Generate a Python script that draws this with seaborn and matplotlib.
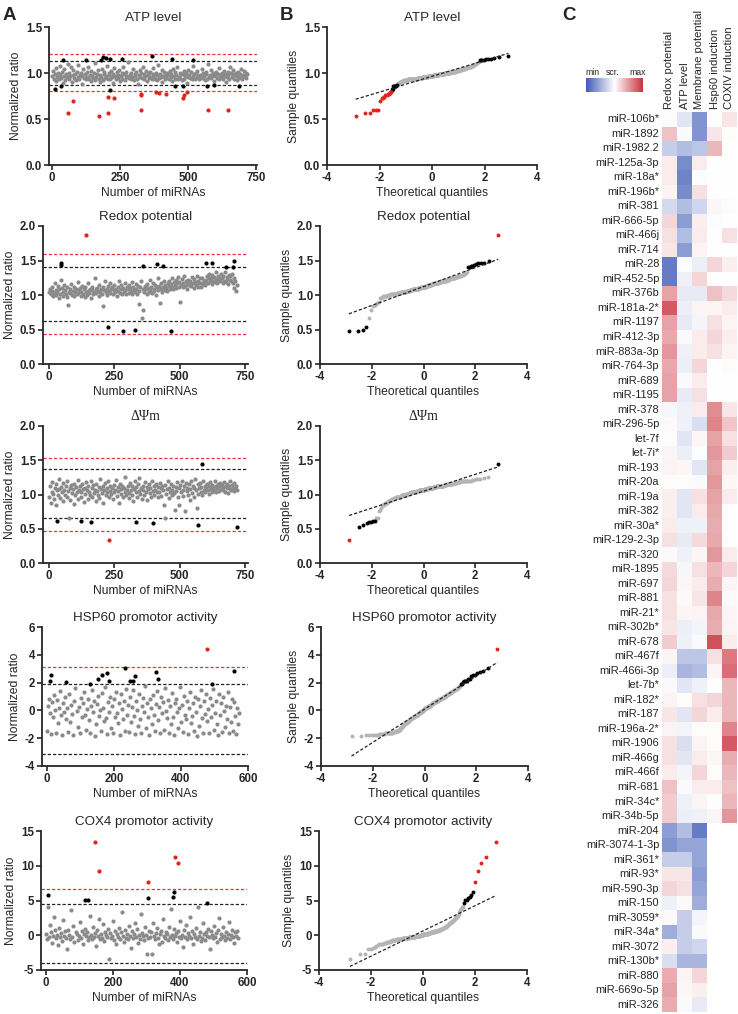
import numpy as np
import pandas as pd
import matplotlib
matplotlib.use("Agg")
import matplotlib.pyplot as plt
import seaborn as sns
from matplotlib.colors import LinearSegmentedColormap, Normalize
from matplotlib.cm import ScalarMappable
from statistics import NormalDist

# ------------------------------------------------------------------ data
# Panel A/B: normalized ratios (hundredths) of every 3rd miRNA in the screen (grey = not hit)
atp_grey = [97,102,94,99,105,91,96,100,93,108,98,95,101,89,97,104,92,99,96,110,
            94,100,97,106,90,98,103,95,99,92,101,96,109,93,98,100,88,97,104,95,
            99,93,101,96,107,94,98,91,102,97,95,100,111,92,96,99,103,94,98,90,
            96,104,92,99,101,95,97,108,93,100,98,94,102,96,89,99,105,97,93,101,
            98,95,103,91,97,100,94,106,99,92,96,101,97,112,95,98,93,100,96,104,
            92,99,97,101,94,88,98,103,96,100,95,107,93,99,97,102,91,98,95,100,
            101,96,93,99,105,97,94,100,92,98,109,95,99,96,103,90,97,101,94,98,
            95,100,98,93,102,96,99,91,104,97,94,101,98,106,93,96,100,95,99,92,
            99,94,102,97,100,89,96,103,98,95,101,93,97,108,99,94,100,96,102,97,
            93,98,96,104,95,100,97,92,101,99,94,110,96,98,103,95,97,100,91,99,
            97,101,95,99,93,105,98,96,100,94,102,97,99,90,96,101,98,94,107,100,
            96,99,103,94,98,100,92,97,101,95,99,104,96,93,98,102,97,100,95,99]
atp_black_x = [12, 32, 40, 124, 182, 188, 198, 212, 215, 259, 369, 443, 454, 482, 517, 571, 595, 687]
atp_black_y = [0.83, 0.857, 1.14, 1.14, 1.145, 1.17, 1.16, 1.15, 0.81, 1.15, 1.18, 1.15, 0.86, 0.86, 1.14, 0.857, 0.875, 0.86]
atp_red_x = [59, 77, 172, 205, 206, 227, 327, 327, 329, 384, 394, 421, 480, 485, 497, 574, 646]
atp_red_y = [0.56, 0.70, 0.535, 0.567, 0.74, 0.726, 0.777, 0.76, 0.60, 0.795, 0.784, 0.77, 0.726, 0.766, 0.79, 0.60, 0.596]
atp_red_lines = [1.21, 0.805]
atp_black_lines = [1.135, 0.87]

redox_grey = [104,109,101,112,106,98,103,118,107,100,105,113,96,108,102,122,110,99,104,115,
              107,101,111,97,86,105,109,103,116,100,106,112,98,104,108,101,119,103,107,110,
              99,105,113,102,108,97,111,104,100,117,106,103,109,95,107,112,101,105,124,108,
              103,110,106,99,114,105,108,102,111,84,107,120,104,109,100,113,106,103,118,108,
              111,102,107,115,104,109,99,112,106,121,103,108,114,101,110,105,117,107,102,112,
              108,115,103,110,106,119,101,112,107,104,116,109,102,113,106,87,111,120,66,109,
              78,105,113,108,101,116,110,104,122,107,112,103,118,109,106,114,100,111,125,107,
              113,88,109,117,104,112,120,107,115,110,106,118,113,121,109,116,111,124,108,119,
              114,122,110,117,126,112,119,90,115,123,111,118,127,113,120,116,109,122,114,118,
              121,113,126,117,110,123,119,115,128,112,120,117,124,111,118,125,116,121,114,119,
              122,127,118,125,131,120,124,116,129,121,126,119,133,123,117,128,122,125,120,130,
              124,118,128,121,134,119,126,123,116,129,122,127,120,131,117,125,110,121,106,114]
redox_black_x = [45, 47, 360, 412, 437, 599, 625, 677, 703, 708, 226, 284, 330, 465]
redox_black_y = [1.43, 1.46, 1.42, 1.45, 1.42, 1.47, 1.46, 1.40, 1.40, 1.50, 0.54, 0.485, 0.495, 0.48]
redox_red_x = [143]
redox_red_y = [1.865]
redox_red_lines = [1.587, 0.433]
redox_black_lines = [1.40, 0.625]

mmp_grey = [96,112,88,104,118,101,93,109,84,115,106,99,122,108,95,111,103,117,90,107,
            100,113,97,119,105,66,109,92,114,102,108,86,116,99,111,104,121,94,107,112,
            103,97,115,108,89,110,101,118,106,93,112,104,99,120,96,109,114,102,107,91,
            116,105,100,111,95,123,108,102,113,87,106,117,99,110,104,119,97,112,105,101,
            109,94,114,103,107,121,98,111,105,88,116,101,108,113,96,110,104,126,99,107,
            112,102,95,117,106,100,113,90,108,119,103,111,97,115,105,124,101,109,94,112,
            106,99,118,104,111,92,108,115,102,110,97,120,105,113,100,107,116,103,96,111,
            104,117,109,98,112,106,85,66,114,101,108,119,95,110,103,116,107,99,113,102,
            78,111,105,118,96,109,84,114,103,120,107,98,112,76,117,105,110,100,115,92,
            108,119,102,113,97,110,123,106,81,115,101,109,117,104,111,99,120,107,113,103,
            110,116,106,112,101,118,108,114,104,111,107,119,103,113,109,115,105,112,117,108,
            114,106,111,118,104,113,109,116,102,112,108,119,106,114,110,105,117,109,113,107]
mmp_black_x = [31, 124, 162, 332, 399, 571, 584, 718]
mmp_black_y = [0.62, 0.62, 0.60, 0.60, 0.58, 0.557, 1.44, 0.52]
mmp_red_x = [229]
mmp_red_y = [0.34]
mmp_red_lines = [1.54, 0.47]
mmp_black_lines = [1.37, 0.654]

hsp_grey = [-150,30,85,-20,-170,60,-45,110,5,-160,75,-90,20,140,-35,-175,50,-10,95,-60,
            15,-155,120,-80,40,-25,-180,70,160,-5,-120,25,-165,90,-50,55,130,-30,-140,10,
            80,-70,-160,35,150,-15,65,-185,-100,45,105,-40,0,-150,125,20,-75,170,-55,-170,
            60,-10,100,-130,30,-165,85,-45,135,-20,-90,50,-175,115,10,-60,70,-145,155,-30,
            40,-155,95,-85,25,145,-40,-170,65,5,-110,120,-65,-160,35,90,-15,175,-125,55,
            -50,-180,80,15,-95,110,-35,-150,45,140,-70,25,-165,100,-20,60,-140,160,-5,-55,
            75,-160,30,-100,125,-45,-175,50,85,-15,-130,15,165,-80,40,-155,105,-30,-60,70,
            -170,20,135,-90,-40,55,-150,95,-10,-185,80,-115,30,145,-55,-160,65,-25,115,-75,
            10,-165,90,-50,40,155,-140,-20,70,-95,-175,120,-35,50,-155,100,-5,-120,35,-60,
            130,-160,25,-80,85,-150,60,-40,-170,15,-100,-20]
hsp_black_x = [10, 13, 56, 129, 151, 163, 179, 186, 232, 249, 256, 264, 324, 330, 494, 558]
hsp_black_y = [2.09, 2.57, 2.04, 1.87, 2.28, 2.52, 2.69, 2.11, 3.07, 2.11, 2.11, 2.45, 2.78, 2.23, 1.92, 2.85]
hsp_red_x = [478]
hsp_red_y = [4.39]
hsp_red_lines = [3.12]
hsp_black_lines = [1.87, -3.12]

cox_grey = [20,-60,410,-30,150,45,-110,-15,260,70,-45,5,-140,100,-25,30,-80,220,-10,55,
            -35,-200,80,10,-55,360,-20,130,-95,40,15,-65,-5,190,-40,65,-120,25,90,-15,
            50,-75,-30,280,5,-50,120,-20,35,-150,75,-10,240,-60,20,-35,160,-85,45,0,
            -25,95,-340,30,-45,-5,210,-70,60,-130,15,-20,110,-55,40,330,-15,-90,70,-35,
            25,-60,140,-5,-180,55,-40,20,180,-25,85,-110,10,-50,300,35,-15,-75,120,5,
            -270,-45,65,-20,40,-270,170,-10,-60,30,100,-35,-130,15,60,-90,230,-5,-40,45,
            20,-70,125,-25,380,0,-55,90,-15,35,-100,55,-30,200,-45,10,-165,75,-20,145,
            -60,30,-5,260,-40,65,-120,15,-25,105,-50,400,-10,40,-85,-35,175,20,-65,50,
            -15,90,-30,-200,60,10,-45,135,-20,35,-95,70,250,-55,15,-30,115,-10,-75,45,
            -40,25,185,-60,5,80,-25,-110,40,-15,60,-35]
cox_black_x = [5, 117, 124, 304, 379, 383, 481]
cox_black_y = [5.84, 5.07, 5.07, 5.4, 5.44, 6.26, 4.68]
cox_red_x = [147, 157, 304, 384, 395]
cox_red_y = [13.46, 9.24, 7.70, 11.2, 10.38]
cox_red_lines = [6.6]
cox_black_lines = [4.44, -4.0]

# Panel C heat map
hm_rows = ["miR-106b*", "miR-1892", "miR-1982.2", "miR-125a-3p", "miR-18a*", "miR-196b*",
           "miR-381", "miR-666-5p", "miR-466j", "miR-714", "miR-28", "miR-452-5p", "miR-376b",
           "miR-181a-2*", "miR-1197", "miR-412-3p", "miR-883a-3p", "miR-764-3p", "miR-689", "miR-1195",
           "miR-378", "miR-296-5p", "let-7f", "let-7i*",
           "miR-193", "miR-20a", "miR-19a", "miR-382", "miR-30a*", "miR-129-2-3p", "miR-320",
           "miR-1895", "miR-697", "miR-881", "miR-21*", "miR-302b*", "miR-678", "miR-467f",
           "miR-466i-3p", "let-7b*", "miR-182*", "miR-187", "miR-196a-2*",
           "miR-1906", "miR-466g", "miR-466f", "miR-681", "miR-34c*", "miR-34b-5p", "miR-204",
           "miR-3074-1-3p", "miR-361*", "miR-93*", "miR-590-3p", "miR-150", "miR-3059*",
           "miR-34a*", "miR-3072", "miR-130b*", "miR-880", "miR-669o-5p", "miR-326"]
hm_cols = ["Redox potential", "ATP level", "Membrane potential", "Hsp60 induction", "COXIV induction"]
nan = np.nan
redox_c = [0.02, 0.3, -0.3, 0.1, 0.1, 0.06,
           -0.22, 0.2, 0.15, 0.12, -0.8, -0.8, 0.45, 0.8, 0.45, 0.42, 0.5, 0.42, 0.45, 0.45,
           -0.05, 0.03, -0.02, 0.05,
           0.06, 0.02, 0.08, 0.08, 0.1, 0.15, 0.03, 0.18, 0.2, 0.15, 0.15, 0.12, 0.25, 0.05, -0.1, -0.03, 0.06, 0.12, 0.06,
           0.15, 0.15, 0.1, 0.3, 0.25, 0.25, -0.6, -0.65, -0.3, 0.12, 0.2, -0.08, 0.03, -0.5, 0.08, -0.2, 0.4, 0.45, 0.4]
atp_c = [-0.15, -0.03, -0.4, -0.7, -0.75, -0.7,
         -0.4, -0.6, -0.4, -0.6, -0.02, -0.08, -0.12, -0.1, -0.12, -0.03, -0.08, -0.1, -0.03, -0.12,
         -0.08, -0.08, -0.15, -0.1,
         0.04, 0.02, -0.15, -0.15, -0.08, -0.12, -0.08, -0.05, 0.04, 0.03, 0.05, -0.1, -0.08, -0.35, -0.45, -0.15, 0.02, -0.15, -0.06,
         -0.2, -0.15, -0.06, -0.03, -0.08, -0.1, -0.4, -0.55, -0.3, 0.12, 0.15, 0.03, -0.3, -0.3, -0.3, -0.45, 0.06, 0.04, -0.03]
mem_c = [-0.65, -0.65, -0.35, 0.1, -0.02, 0.15,
         -0.25, 0.08, 0.1, 0.06, -0.1, 0.2, -0.12, 0.05, -0.06, 0.1, 0.1, 0.2, 0.1, 0.15,
         0.1, -0.2, 0.04, -0.02,
         -0.15, -0.03, 0.15, 0.1, -0.08, 0.18, 0.05, 0.15, 0.1, 0.12, 0.06, -0.06, -0.03, -0.35, -0.4, -0.08, 0.15, 0.2, 0.02,
         0.06, 0.1, 0.2, 0.1, 0.06, -0.08, -0.8, -0.55, -0.55, -0.6, -0.55, -0.5, -0.06, -0.03, -0.25, -0.45, 0.2, 0.08, -0.12]
hsp_c = [0, 0.12, 0.35, 0, 0, 0,
         0.04, -0.02, 0, 0, 0.2, 0, 0.3, 0.05, 0.15, 0.2, 0.15, 0, 0, 0,
         0.55, 0.6, 0.45, 0.5,
         0.45, 0.5, 0.45, 0.42, 0.4, 0.42, 0.5, 0.35, 0.4, 0.6, 0.42, 0.4, 0.85, 0.15, 0.05, 0, 0.2, 0.1, 0.02,
         0.02, 0.04, 0.02, 0.1, 0.01, 0.05] + [nan] * 13
cox_c = [0.12, 0.02, 0, 0, 0, 0,
         0.02, 0, 0.15, 0, 0.08, 0, 0.18, 0.1, 0.06, 0.08, 0.06, 0.02, 0, 0,
         0.12, 0.28, 0.15, 0.25,
         0.08, 0.04, 0.1, 0, 0, 0, 0.1, 0.2, 0.05, 0.03, 0.05, 0.06, 0.1, 0.65, 0.7, 0.35, 0.35, 0.35, 0.6,
         0.8, 0.4, 0.35, 0.3, 0.35, 0.5] + [nan] * 13
cbar_labels = ["min", "scr.", "max"]

# ------------------------------------------------------------------ style
sns.set_style("ticks")
plt.rcParams['font.family'] = ['Liberation Sans', 'DejaVu Sans']

W, H = 738, 1014
fig = plt.figure(figsize=(W / 100, H / 100), dpi=100)


def px_axes(l, t, r, b):
    return fig.add_axes([l / W, 1 - b / H, (r - l) / W, (b - t) / H])


GREY_A = '#8a8a8a'
GREY_B = '#b4b4b4'
RED = '#e3241c'
RED_LINE = '#e8343a'
DASH = (0, (2.6, 1.6))


def style_axes(ax, xticks, yticks, xfmt, yfmt, xlabel, ylabel, title, title_family=None):
    sns.despine(ax=ax)
    for s in ['left', 'bottom']:
        ax.spines[s].set_linewidth(1.3)
    ax.set_xticks(xticks)
    ax.set_xticklabels([xfmt % t for t in xticks], fontweight='bold', fontsize=8.3)
    ax.set_yticks(yticks)
    ax.set_yticklabels([yfmt % t for t in yticks], fontweight='bold', fontsize=8.3)
    ax.tick_params(width=1.2, length=3.5, pad=1.5)
    ax.set_xlabel(xlabel, fontsize=8.7, labelpad=2)
    ax.set_ylabel(ylabel, fontsize=8.7, labelpad=3)
    if title_family:
        ax.set_title(title, fontsize=10, pad=4, family=title_family)
    else:
        ax.set_title(title, fontsize=9.6, pad=4)


panels = [
    dict(title="ATP level", grey=atp_grey, bx=atp_black_x, by=atp_black_y, rx=atp_red_x, ry=atp_red_y,
         rl=atp_red_lines, bl=atp_black_lines, ylim=(0, 1.5), yticks=[0, 0.5, 1.0, 1.5], yfmt='%.1f',
         xlim=(-11, 754), xticks=[0, 250, 500, 750]),
    dict(title="Redox potential", grey=redox_grey, bx=redox_black_x, by=redox_black_y, rx=redox_red_x, ry=redox_red_y,
         rl=redox_red_lines, bl=redox_black_lines, ylim=(0, 2.0), yticks=[0, 0.5, 1.0, 1.5, 2.0], yfmt='%.1f',
         xlim=(-23, 761), xticks=[0, 250, 500, 750]),
    dict(title="ΔΨm", grey=mmp_grey, bx=mmp_black_x, by=mmp_black_y, rx=mmp_red_x, ry=mmp_red_y,
         rl=mmp_red_lines, bl=mmp_black_lines, ylim=(0, 2.0), yticks=[0, 0.5, 1.0, 1.5, 2.0], yfmt='%.1f',
         xlim=(-23, 761), xticks=[0, 250, 500, 750], family='Liberation Serif'),
    dict(title="HSP60 promotor activity", grey=hsp_grey, bx=hsp_black_x, by=hsp_black_y, rx=hsp_red_x, ry=hsp_red_y,
         rl=hsp_red_lines, bl=hsp_black_lines, ylim=(-4, 6), yticks=[-4, -2, 0, 2, 4, 6], yfmt='%d',
         xlim=(-15, 600), xticks=[0, 200, 400, 600]),
    dict(title="COX4 promotor activity", grey=cox_grey, bx=cox_black_x, by=cox_black_y, rx=cox_red_x, ry=cox_red_y,
         rl=cox_red_lines, bl=cox_black_lines, ylim=(-5, 15), yticks=[-5, 0, 5, 10, 15], yfmt='%d',
         xlim=(-15, 600), xticks=[0, 200, 400, 600]),
]

tops = [27, 226, 426, 627, 831]
bots = [165, 364, 563, 766, 970]
a_left = [49, 43, 43, 42, 41]
a_right = [257, 248, 248, 248, 247]
b_left = [327, 320, 320, 321, 319]
b_right = [537, 527, 527, 528, 527]

nd = NormalDist()

for i, p in enumerate(panels):
    grey_y = np.array(p['grey']) / 100.0
    grey_x = np.arange(len(grey_y)) * 3 + 1

    # ---- panel A: scatter over miRNA number
    ax = px_axes(a_left[i], tops[i], a_right[i], bots[i])
    for v in p['rl']:
        ax.axhline(v, color=RED_LINE, lw=0.9, ls=DASH, zorder=1)
    for v in p['bl']:
        ax.axhline(v, color='#222222', lw=0.9, ls=DASH, zorder=1)
    sns.scatterplot(x=grey_x, y=grey_y, color=GREY_A, s=9, linewidth=0, ax=ax, zorder=2)
    sns.scatterplot(x=p['bx'], y=p['by'], color='black', s=9, linewidth=0, ax=ax, zorder=3)
    sns.scatterplot(x=p['rx'], y=p['ry'], color=RED, s=9, linewidth=0, ax=ax, zorder=3)
    ax.set_xlim(*p['xlim'])
    ax.set_ylim(*p['ylim'])
    style_axes(ax, p['xticks'], p['yticks'], '%d', p['yfmt'], "Number of miRNAs", "Normalized ratio",
               p['title'], p.get('family'))

    # ---- panel B: normal QQ plot of the same values
    vals = np.concatenate([grey_y, np.array(p['by'], float), np.array(p['ry'], float)])
    cats = np.array(['g'] * len(grey_y) + ['b'] * len(p['by']) + ['r'] * len(p['ry']))
    order = np.argsort(vals, kind='stable')
    n = len(vals)
    z = np.array([nd.inv_cdf((k + 0.5) / n) for k in range(n)])
    sv = vals[order]
    sc = cats[order]
    slope, icpt = np.polyfit(z, sv, 1)

    axb = px_axes(b_left[i], tops[i], b_right[i], bots[i])
    for c, col, sz in [('g', GREY_B, 8), ('b', 'black', 8), ('r', RED, 8)]:
        m = sc == c
        sns.scatterplot(x=z[m], y=sv[m], color=col, s=sz, linewidth=0, ax=axb, zorder=2)
    sns.lineplot(x=[z[0], z[-1]], y=[icpt + slope * z[0], icpt + slope * z[-1]], color='#222222',
                 lw=0.9, linestyle=DASH, ax=axb, zorder=4)
    axb.set_xlim(-4, 4)
    axb.set_ylim(*p['ylim'])
    style_axes(axb, [-4, -2, 0, 2, 4], p['yticks'], '%d', p['yfmt'], "Theoretical quantiles",
               "Sample quantiles", p['title'], p.get('family'))

# ---- panel C: heat map
hm = pd.DataFrame({hm_cols[0]: redox_c, hm_cols[1]: atp_c, hm_cols[2]: mem_c,
                   hm_cols[3]: hsp_c, hm_cols[4]: cox_c}, index=hm_rows)
cmap = LinearSegmentedColormap.from_list('bwr_c', ['#3f5bb5', '#ffffff', '#c8323c'])
axh = px_axes(662, 112, 737, 1012)
sns.heatmap(hm, cmap=cmap, vmin=-1, vmax=1, cbar=False, ax=axh,
            xticklabels=hm_cols, yticklabels=hm_rows)
axh.xaxis.tick_top()
axh.set_xticklabels(hm_cols, rotation=90, fontsize=8, va='bottom', ha='center')
axh.set_yticklabels(hm_rows, rotation=0, fontsize=7.9)
axh.tick_params(axis='both', length=0, pad=2)
axh.set_xlabel('')
axh.set_ylabel('')

cax = px_axes(586, 78, 643, 92)
cb = fig.colorbar(ScalarMappable(norm=Normalize(-1, 1), cmap=cmap), cax=cax, orientation='horizontal')
cb.outline.set_visible(False)
cax.xaxis.set_ticks_position('top')
cax.set_xticks([-0.78, -0.05, 0.8])
cax.set_xticklabels(cbar_labels, fontsize=6.3)
cax.tick_params(length=0, pad=1)

# panel letters
for letter, xp in [("A", 3), ("B", 280), ("C", 562)]:
    fig.text(xp / W, 1 - 16 / H, letter, fontsize=13.5, fontweight='bold', va='center', ha='left')

fig.savefig("out.png", dpi=100)
